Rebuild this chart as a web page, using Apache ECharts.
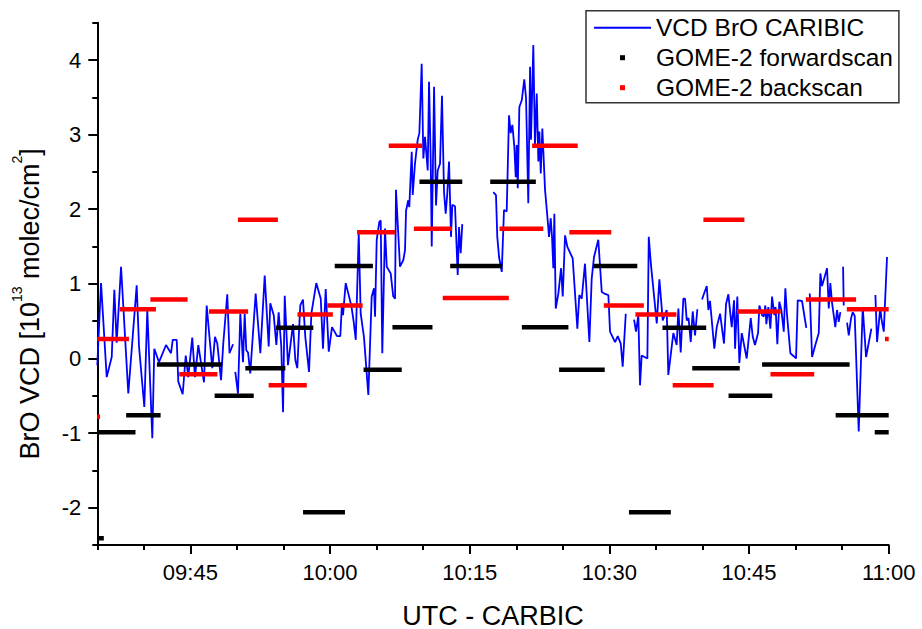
<!DOCTYPE html>
<html>
<head>
<meta charset="utf-8">
<title>BrO VCD – CARIBIC vs GOME-2</title>
<script src="https://cdn.jsdelivr.net/npm/echarts@6/dist/echarts.min.js"></script>
<style>
  html, body { margin: 0; padding: 0; background: #ffffff; }
  #chart { width: 922px; height: 629px; }
</style>
</head>
<body>
<div id="chart"></div>
<script>
// Time is given in minutes after 09:00 UTC, VCD in 1e13 molec/cm2.

// CARIBIC in-situ derived BrO VCD; null marks a break in the record.
const caribicVcd = [
  [35.00,-0.09],[35.40,1.01],[36.01,-0.25],[36.55,0.02],[36.83,0.92],[37.08,0.21],[37.55,1.23],[38.33,-0.47],
  [39.23,0.98],[39.48,0.16],[40.05,-0.65],[40.37,0.65],[40.91,-1.07],[41.12,0.13],[41.63,-0.05],[42.38,0.18],
  [42.92,0.07],[43.10,0.25],[43.53,0.25],[43.70,-0.31],[44.17,-0.48],[44.50,0.04],[44.77,-0.25],[45.20,0.28],
  [45.49,-0.25],[45.85,0.18],[46.46,-0.32],[46.75,0.71],[47.11,0.20],[47.35,-0.13],[47.64,0.29],[47.89,0.20],
  [48.29,-0.29],[48.53,0.20],[48.96,0.86],[49.20,0.07],[49.58,0.19],
  [49.70,null],
  [49.82,-0.18],[50.11,-0.47],[50.36,0.60],[50.65,-0.05],[50.83,0.60],[51.00,0.11],[51.19,0.08],[51.43,-0.20],
  [52.01,0.87],[52.51,0.07],[52.98,1.11],[53.41,0.16],[53.58,0.74],[53.95,0.58],[54.23,0.18],[54.48,0.62],
  [54.76,0.16],[54.95,-0.72],[55.13,0.84],[55.48,-0.09],[56.02,0.46],[56.27,-0.02],[56.48,-0.13],[56.80,0.71],
  [57.09,0.79],[57.34,0.29],[57.74,-0.18],[57.99,0.60],[58.52,1.01],[59.00,0.80],[59.24,0.13],[59.53,0.93],
  [59.86,0.09],[60.21,0.42],[60.75,0.30],[61.10,0.30],[61.28,0.74],[61.39,0.58],[61.68,1.01],[62.28,0.71],
  [62.54,0.49],[62.76,0.25],[63.08,1.68],[63.29,0.60],[63.64,0.29],[64.11,-0.49],[64.47,0.83],[64.72,0.94],
  [64.83,0.56],[65.01,1.59],[65.29,1.83],[65.44,1.85],[65.61,0.07],[65.90,1.74],[66.09,1.23],[66.51,1.14],
  [66.79,0.83],[66.98,0.80],[67.08,2.26],[67.51,1.23],[67.87,1.32],[68.05,1.45],[68.16,1.98],[68.40,2.12],
  [68.51,2.03],[68.77,2.77],[68.88,2.19],[69.12,2.61],[69.41,2.93],[69.59,3.02],[69.84,3.95],[70.02,2.68],
  [70.20,2.97],[70.49,2.52],[70.63,3.71],[70.81,2.66],[70.92,1.50],[71.17,3.64],[71.38,2.05],[71.56,2.52],
  [71.81,2.61],[72.02,3.52],[72.24,2.23],[72.42,1.94],[72.59,2.21],[72.78,2.64],[72.99,1.63],[73.13,2.06],
  [73.42,2.04],[73.71,1.12],[73.85,1.76],[74.03,1.41],[74.20,1.80],
  [76.00,null],
  [77.53,2.23],[77.82,2.19],[77.96,1.63],[78.15,1.36],[78.44,1.16],[78.68,1.99],[78.97,1.97],[79.22,3.26],
  [79.40,3.02],[79.58,3.13],[79.79,2.84],[79.94,2.43],[80.05,2.86],[80.16,2.28],[80.33,3.37],[80.59,3.46],
  [80.86,3.74],[81.05,3.49],[81.29,2.08],[81.48,3.91],[81.58,2.93],[81.83,4.20],[82.01,2.84],[82.20,3.55],
  [82.37,2.64],[82.48,3.04],[82.63,2.48],[82.80,3.08],[83.09,2.26],[83.34,1.90],[83.52,1.63],[83.70,1.88],
  [83.84,1.63],[83.98,1.21],[84.09,1.94],[84.24,0.67],[84.52,0.87],[84.81,1.21],[84.99,0.83],[85.24,1.65],
  [85.48,1.50],[86.06,1.34],[86.56,0.40],[86.77,0.85],[87.03,0.80],[87.38,1.27],[87.85,0.22],[88.10,1.07],
  [88.35,1.36],[88.81,1.59],[89.18,0.89],[89.46,0.87],[89.89,0.85],[90.07,0.36],[90.61,0.22],[90.90,0.30],
  [91.22,0.20],[91.43,-0.11],[91.76,0.60],
  [92.20,null],
  [92.65,0.52],[92.86,0.36],[93.11,0.58],[93.29,-0.36],[93.47,0.04],[94.08,0.00],[94.23,1.63],[94.47,1.25],
  [95.09,0.47],[95.37,1.06],[95.73,0.51],[96.16,0.65],[96.33,-0.22],[96.87,0.34],[97.23,0.18],[97.41,0.67],
  [97.66,0.08],[97.94,0.80],[98.13,0.80],[98.31,0.51],[98.50,0.54],[98.74,0.22],[98.95,0.63],[99.20,0.31],
  [99.45,0.66],
  [99.70,null],
  [99.95,0.79],[100.17,0.87],[100.46,0.97],[100.63,0.65],[100.81,0.77],[101.27,0.13],[101.53,0.42],[101.89,0.60],
  [102.31,0.20],[102.53,0.73],[102.78,0.86],[103.14,0.42],[103.39,0.78],[103.50,0.13],[103.74,0.83],[103.96,-0.06],
  [104.22,0.34],[104.75,0.00],[105.18,0.54],[105.40,0.29],[105.64,0.18],[105.97,0.34],[106.11,0.71],[106.40,0.58],
  [106.58,0.56],[106.75,0.71],[106.86,0.46],[107.07,0.69],[107.29,0.40],[107.47,0.83],[107.72,0.58],[107.85,0.69],
  [108.04,0.19],[108.25,0.76],[108.47,0.65],[108.73,0.36],[108.90,0.94],[109.08,0.58],[109.44,0.07],[109.80,0.03],
  [110.05,0.00],[110.23,0.78],[110.69,0.77],[111.15,0.41],
  [111.30,null],
  [111.52,0.87],[111.77,0.02],[112.12,0.18],[112.49,0.34],[112.66,1.14],[112.84,0.97],[113.02,1.05],[113.38,1.21],
  [113.56,0.67],[113.73,1.01],[113.92,0.74],[114.27,0.42],[114.45,0.65],[114.63,0.49],[114.81,0.62],
  [114.95,null],
  [115.10,1.23],[115.17,0.71],
  [115.35,null],
  [115.53,0.48],[115.71,0.31],[115.96,0.54],[116.14,0.62],[116.35,0.57],[116.78,-0.98],[117.21,0.69],[117.57,0.02],
  [118.14,0.40],
  [118.35,null],
  [118.57,0.85],[118.75,0.22],[119.10,0.69],[119.21,0.54],[119.47,0.36],[119.82,1.36]
];

// GOME-2 forward-scan pixels: overpass window start/end and VCD
const fwdStart = [35.0, 35.0, 38.1, 41.4, 47.6, 50.9, 54.2, 57.1, 60.5, 63.6, 66.7, 69.6,
                  72.9, 77.2, 80.6, 84.6, 88.3, 92.1, 95.7, 98.9, 102.8, 106.4, 114.3, 118.5];
const fwdEnd   = [35.7, 39.1, 41.8, 48.4, 51.8, 55.2, 58.2, 61.6, 64.6, 67.7, 71.0, 74.2,
                  78.5, 82.1, 85.6, 89.5, 93.0, 96.6, 100.4, 104.0, 107.5, 115.8, 120.0, 120.0];
const fwdVcd   = [-2.41, -0.99, -0.76, -0.08, -0.50, -0.13, 0.41, -2.06, 1.24, -0.15, 0.42, 2.37,
                  1.24, 2.37, 0.42, -0.15, 1.24, -2.06, 0.41, -0.13, -0.50, -0.08, -0.76, -0.99];

// GOME-2 back-scan pixels
const backStart = [35.0, 35.0, 37.4, 40.7, 43.8, 47.0, 50.1, 53.4, 56.5, 59.7, 62.9, 66.3, 69.0,
                   72.1, 78.2, 81.7, 85.7, 89.4, 92.8, 96.8, 100.1, 103.7, 107.3, 111.1, 115.5, 119.6];
const backEnd   = [35.3, 38.4, 41.3, 44.7, 47.9, 51.2, 54.4, 57.5, 60.3, 63.5, 67.0, 69.9, 73.1,
                   79.2, 82.9, 86.6, 90.2, 93.7, 97.2, 101.2, 104.5, 108.4, 112.0, 116.5, 120.0, 120.0];
const backVcd   = [-0.78, 0.26, 0.66, 0.79, -0.21, 0.63, 1.86, -0.36, 0.59, 0.71, 1.69, 2.85, 1.74,
                   0.81, 1.74, 2.85, 1.69, 0.71, 0.59, -0.36, 1.86, 0.63, -0.21, 0.79, 0.66, 0.26];

// Axis ranges and labelled ticks
const timeMin = 35, timeMax = 120;          // 09:35 .. 11:00
const timeTicks = [45, 60, 75, 90, 105, 120];
const vcdMin = -2.5, vcdMax = 4.5;
const vcdTicks = [-2, -1, 0, 1, 2, 3, 4];

const seriesNames = ['VCD BrO CARIBIC', 'GOME-2 forwardscan', 'GOME-2 backscan'];

const FONT = "'Liberation Sans', Arial, Helvetica, sans-serif";

function clock(m) {
  const h = 9 + Math.floor(m / 60);
  const mm = Math.round(m - Math.floor(m / 60) * 60);
  return String(h).padStart(2, '0') + ':' + String(mm).padStart(2, '0');
}

// each pixel becomes a flat stroke, separated by an empty point
function pixelsToLine(starts, ends, vals) {
  const out = [];
  for (let i = 0; i < vals.length; i++) {
    out.push([starts[i], vals[i]], [ends[i], vals[i]], [ends[i], '-']);
  }
  return out;
}

const caribicLine = caribicVcd.map(p => [p[0], p[1] === null ? '-' : p[1]]);

const axisLine = { color: '#000', width: 2 };
const tickStyle = { color: '#000', width: 2 };
const labelStyle = { color: '#000', fontSize: 22, fontFamily: FONT };

const chart = echarts.init(document.getElementById('chart'), null, { renderer: 'svg' });

chart.setOption({
  animation: false,
  backgroundColor: '#ffffff',
  grid: {
    left: 97.3, right: 33.3, top: 22.7, bottom: 84,
    containLabel: false, outerBoundsMode: 'none'
  },
  xAxis: [
    {
      type: 'value', min: timeMin, max: timeMax, interval: 5, position: 'bottom',
      axisLine: { show: true, onZero: false, lineStyle: axisLine },
      axisTick: { show: true, length: 5, lineStyle: tickStyle },
      axisLabel: { show: false },
      splitLine: { show: false }
    },
    {
      type: 'value', min: timeMin, max: timeMax, position: 'bottom',
      axisLine: { show: false, onZero: false },
      axisTick: { show: true, length: 9, customValues: timeTicks, lineStyle: tickStyle },
      axisLabel: Object.assign({ show: true, customValues: timeTicks, formatter: clock, margin: 16 }, labelStyle),
      splitLine: { show: false },
      name: 'UTC - CARBIC', nameLocation: 'middle', nameGap: 57,
      nameTextStyle: { fontSize: 27, color: '#000', fontFamily: FONT }
    }
  ],
  yAxis: [
    {
      type: 'value', min: vcdMin, max: vcdMax, interval: 0.5, position: 'left',
      axisLine: { show: true, onZero: false, lineStyle: axisLine },
      axisTick: { show: true, length: 5, lineStyle: tickStyle },
      axisLabel: { show: false },
      splitLine: { show: false }
    },
    {
      type: 'value', min: vcdMin, max: vcdMax, position: 'left',
      axisLine: { show: false, onZero: false },
      axisTick: { show: true, length: 9, customValues: vcdTicks, lineStyle: tickStyle },
      axisLabel: Object.assign({ show: true, customValues: vcdTicks, margin: 16 }, labelStyle),
      splitLine: { show: false },
      name: 'BrO VCD [10{sup|13} molec/cm{sup|2}]',
      nameLocation: 'middle', nameGap: 47,
      nameTextStyle: {
        fontSize: 27, color: '#000', fontFamily: FONT, lineHeight: 40,
        padding: [0, 40, 0, 0],
        rich: {
          sup: { fontSize: 14, lineHeight: 14, verticalAlign: 'top', color: '#000', fontFamily: FONT }
        }
      }
    }
  ],
  legend: {
    orient: 'vertical', left: 586, top: 10.7,
    padding: [2, 6, 0, 7], itemGap: 0,
    itemWidth: 57, itemHeight: 6.25,
    backgroundColor: '#ffffff', borderColor: '#333333', borderWidth: 1.5, borderRadius: 0,
    selectedMode: false,
    textStyle: { fontSize: 24.5, fontFamily: FONT, color: '#000', lineHeight: 30 },
    data: [
      { name: seriesNames[0], itemStyle: { opacity: 0 } },
      { name: seriesNames[1], lineStyle: { opacity: 0 } },
      { name: seriesNames[2], lineStyle: { opacity: 0 } }
    ]
  },
  series: [
    {
      name: seriesNames[0], type: 'line', data: caribicLine,
      xAxisIndex: 0, yAxisIndex: 0,
      symbol: 'none', showSymbol: false, connectNulls: false,
      lineStyle: { color: '#0000ff', width: 1.8 },
      itemStyle: { color: '#0000ff' },
      emphasis: { disabled: true }
    },
    {
      name: seriesNames[1], type: 'line', data: pixelsToLine(fwdStart, fwdEnd, fwdVcd),
      xAxisIndex: 0, yAxisIndex: 0,
      symbol: 'rect', showSymbol: false, connectNulls: false,
      lineStyle: { color: '#000000', width: 4.5, cap: 'butt' },
      itemStyle: { color: '#000000' },
      emphasis: { disabled: true }
    },
    {
      name: seriesNames[2], type: 'line', data: pixelsToLine(backStart, backEnd, backVcd),
      xAxisIndex: 0, yAxisIndex: 0,
      symbol: 'rect', showSymbol: false, connectNulls: false,
      lineStyle: { color: '#ff0000', width: 4.5, cap: 'butt' },
      itemStyle: { color: '#ff0000' },
      emphasis: { disabled: true }
    }
  ]
});
</script>
</body>
</html>
